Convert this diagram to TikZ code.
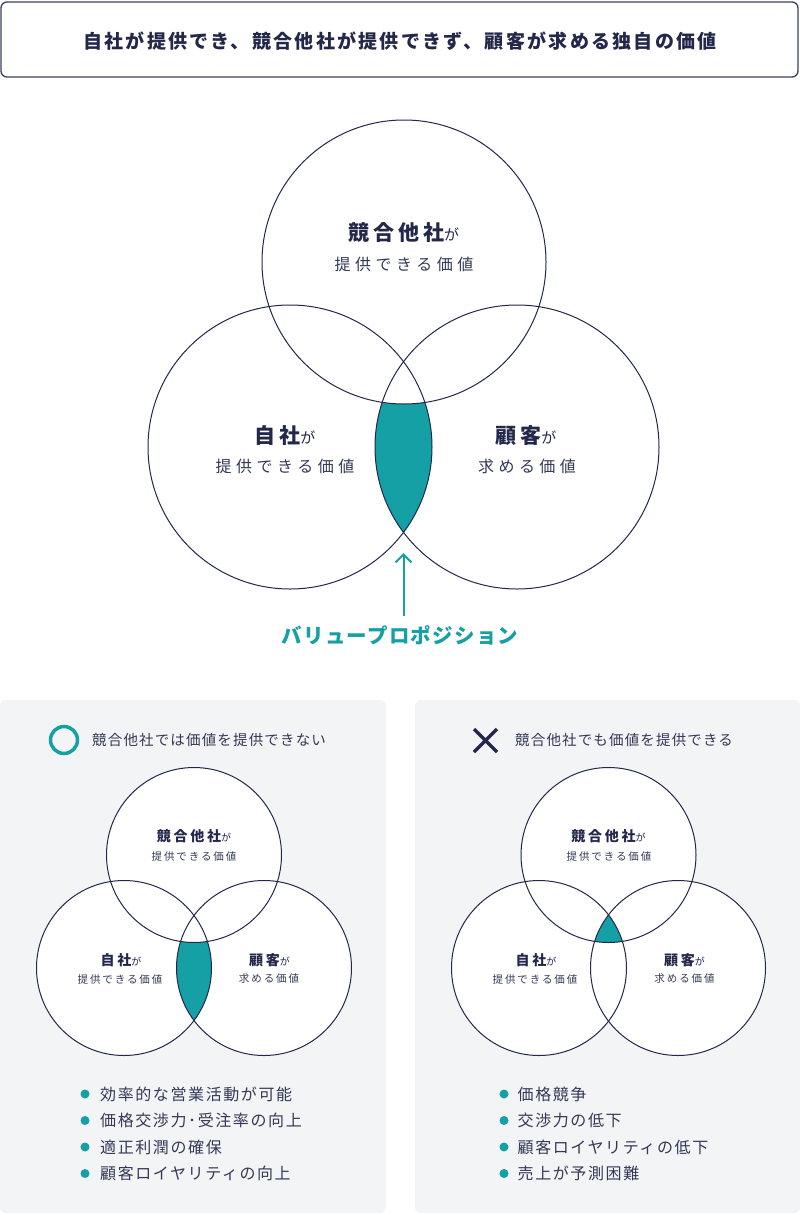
\documentclass[tikz,border=0pt]{standalone}
\usepackage{fontspec}
\setmainfont{Noto Sans CJK JP}
\usetikzlibrary{arrows.meta}
\definecolor{navy}{HTML}{23274A}
\definecolor{txt}{HTML}{343955}
\definecolor{teal1}{HTML}{14A0A4}
\definecolor{panel}{HTML}{F3F4F6}
\definecolor{boxc}{HTML}{3C4060}
\newcommand{\lsp}[1]{\addfontfeature{LetterSpace=#1}}
\newcommand{\fsz}[1]{\fontsize{#1}{#1}\selectfont}
\begin{document}
\begin{tikzpicture}[x=1pt,y=-1pt,
  ln/.style={draw=navy, line width=1pt},
  lbl/.style={inner sep=0pt, text=navy},
  sub/.style={inner sep=0pt, text=txt},
  bul/.style={inner sep=0pt, text=txt, anchor=west, font=\fsz{16}\lsp{10}},
  dotn/.style={circle, fill=teal1, inner sep=0pt, minimum size=9pt},
  hdr/.style={inner sep=0pt, text=txt, anchor=west, font=\fsz{14.5}\lsp{8}}]
\useasboundingbox (0,0) rectangle (800,1215);
\fill[white] (0,0) rectangle (800,1215);

% title box
\node[draw=boxc, line width=1.3pt, rounded corners=6pt, minimum width=797pt, minimum height=75pt, inner sep=0pt] (titlebox) at (399.5,39.5) {};
\node[lbl] (title) at (400,41) {\bfseries\fsz{19}\lsp{12}自社が提供でき、競合他社が提供できず、顧客が求める独自の価値};

% main venn
\coordinate (T) at (404,262);
\coordinate (L) at (290,447);
\coordinate (R) at (517,447);
\begin{scope}
\clip (L) circle[radius=142pt];
\clip (R) circle[radius=142pt];
\fill[teal1, even odd rule] (0,0) rectangle (800,1215) (T) circle[radius=142pt];
\end{scope}
\foreach \c in {T,L,R} \draw[ln] (\c) circle[radius=142pt];

\node[lbl] (tT) at (404,233) {{\bfseries\fsz{21}\lsp{18}競合他社}{\fsz{15}が}};
\node[sub] (sT) at (404,264) {\fsz{16}\lsp{28}提供できる価値};
\node[lbl] (tL) at (285,436) {{\bfseries\fsz{21}\lsp{18}自社}{\fsz{15}が}};
\node[sub] (sL) at (285,466) {\fsz{16}\lsp{28}提供できる価値};
\node[lbl] (tR) at (526,436) {{\bfseries\fsz{21}\lsp{18}顧客}{\fsz{15}が}};
\node[sub] (sR) at (527,466) {\fsz{16}\lsp{28}求める価値};

\coordinate (arrB) at (403.5,616);
\coordinate (arrT) at (403.5,553);
\draw[teal1, line width=2pt, -{Straight Barb[length=8pt,width=16pt,line width=2pt]}] (arrB) -- (arrT);
\node[inner sep=0pt, text=teal1] (vp) at (400,635) {\bfseries\fsz{20.5}\lsp{6}バリュープロポジション};

% panels
\fill[panel, rounded corners=6pt] (0,700) rectangle (386,1213);
\fill[panel, rounded corners=6pt] (415,700) rectangle (800,1213);

% left panel header
\node[circle, draw=teal1, line width=3.5pt, minimum size=27pt, inner sep=0pt] (okicon) at (64,740) {};
\node[hdr] (okh) at (92,740) {競合他社では価値を提供できない};

% right panel header
\coordinate (x1) at (474,729);
\coordinate (x2) at (497,752);
\coordinate (x3) at (497,729);
\coordinate (x4) at (474,752);
\draw[navy, line width=3.5pt] (x1) -- (x2) (x3) -- (x4);
\node[hdr] (ngh) at (515,740) {競合他社でも価値を提供できる};

% left small venn
\coordinate (aT) at (194,855);
\coordinate (aL) at (124,968);
\coordinate (aR) at (264,968);
\foreach \c in {aT,aL,aR} \fill[white] (\c) circle[radius=87.5pt];
\begin{scope}
\clip (aL) circle[radius=87.5pt];
\clip (aR) circle[radius=87.5pt];
\fill[teal1, even odd rule] (0,0) rectangle (800,1215) (aT) circle[radius=87.5pt];
\end{scope}
\foreach \c in {aT,aL,aR} \draw[ln] (\c) circle[radius=87.5pt];
\node[lbl] (atT) at (194,836.5) {{\bfseries\fsz{14}\lsp{20}競合他社}{\fsz{10}が}};
\node[sub] (asT) at (194,856) {\fsz{10.5}\lsp{18}提供できる価値};
\node[lbl] (atL) at (121,960.5) {{\bfseries\fsz{14}\lsp{20}自社}{\fsz{10}が}};
\node[sub] (asL) at (120,979) {\fsz{10.5}\lsp{18}提供できる価値};
\node[lbl] (atR) at (269.5,960.5) {{\bfseries\fsz{14}\lsp{20}顧客}{\fsz{10}が}};
\node[sub] (asR) at (269,979) {\fsz{10.5}\lsp{18}求める価値};

% right small venn
\coordinate (bT) at (608.5,855);
\coordinate (bL) at (539,968);
\coordinate (bR) at (678,968);
\foreach \c in {bT,bL,bR} \fill[white] (\c) circle[radius=87.5pt];
\begin{scope}
\clip (bL) circle[radius=87.5pt];
\clip (bR) circle[radius=87.5pt];
\fill[teal1] (bT) circle[radius=87.5pt];
\end{scope}
\foreach \c in {bT,bL,bR} \draw[ln] (\c) circle[radius=87.5pt];
\node[lbl] (btT) at (608.5,836.5) {{\bfseries\fsz{14}\lsp{20}競合他社}{\fsz{10}が}};
\node[sub] (bsT) at (609,856) {\fsz{10.5}\lsp{18}提供できる価値};
\node[lbl] (btL) at (536,960.5) {{\bfseries\fsz{14}\lsp{20}自社}{\fsz{10}が}};
\node[sub] (bsL) at (535,979) {\fsz{10.5}\lsp{18}提供できる価値};
\node[lbl] (btR) at (684.5,960.5) {{\bfseries\fsz{14}\lsp{20}顧客}{\fsz{10}が}};
\node[sub] (bsR) at (684.5,979) {\fsz{10.5}\lsp{18}求める価値};

% bullets left
\node[dotn] (ld1) at (85,1094) {};
\node[dotn] (ld2) at (85,1120.5) {};
\node[dotn] (ld3) at (85,1147) {};
\node[dotn] (ld4) at (85,1173.5) {};
\node[bul] (lb1) at (100,1094) {効率的な営業活動が可能};
\node[bul] (lb2) at (100,1120.5) {価格交渉力･受注率の向上};
\node[bul] (lb3) at (100,1147) {適正利潤の確保};
\node[bul] (lb4) at (100,1173.5) {顧客ロイヤリティの向上};

% bullets right
\node[dotn] (rd1) at (504,1094) {};
\node[dotn] (rd2) at (504,1120.5) {};
\node[dotn] (rd3) at (504,1147) {};
\node[dotn] (rd4) at (504,1173.5) {};
\node[bul] (rb1) at (517.5,1094) {価格競争};
\node[bul] (rb2) at (517.5,1120.5) {交渉力の低下};
\node[bul] (rb3) at (517.5,1147) {顧客ロイヤリティの低下};
\node[bul] (rb4) at (517.5,1173.5) {売上が予測困難};
\end{tikzpicture}
\end{document}
